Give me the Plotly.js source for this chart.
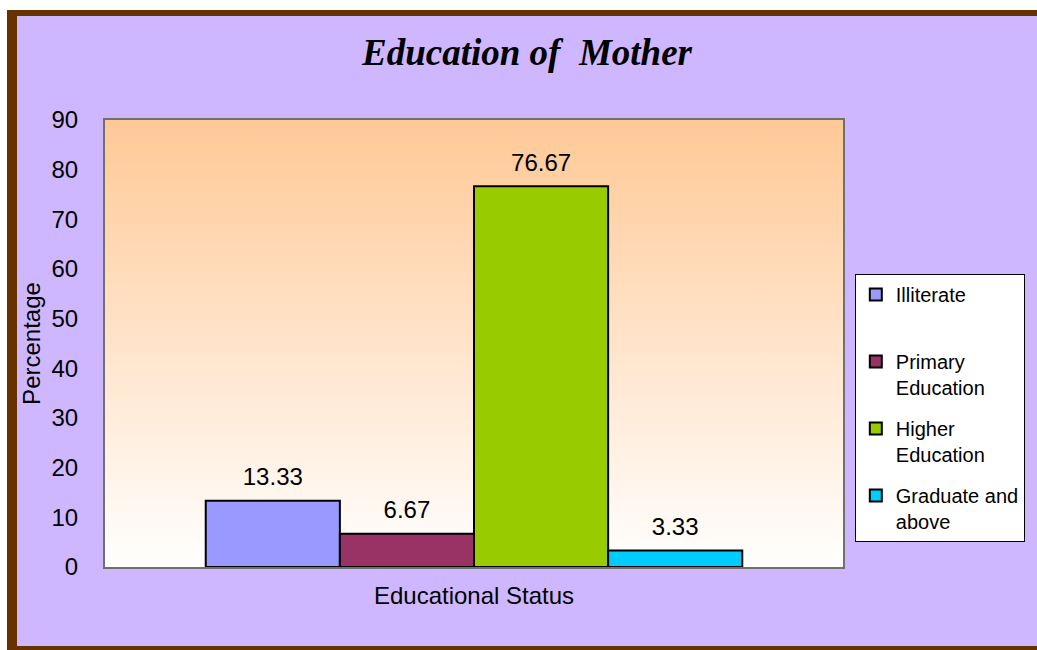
<!DOCTYPE html>
<html>
<head>
<meta charset="utf-8">
<script src="https://cdn.plot.ly/plotly-3.0.1.min.js"></script>
<style>
  html, body { margin: 0; padding: 0; background: #ffffff; width: 1037px; height: 650px; overflow: hidden; }
  #wrap { position: absolute; left: 7px; top: 10px; width: 1030px; height: 640px; box-sizing: border-box;
          border-left: 10px solid #663300; border-top: 6px solid #663300; border-bottom: 4px solid #663300;
          background: #cfb7ff; }
  #chart { width: 1020px; height: 630px; }
</style>
</head>
<body>
<div id="wrap"><div id="chart"></div></div>
<script>
// Data
const categories = ["Educational Status"];
const seriesNames = ["Illiterate", "Primary<br>Education", "Higher<br>Education", "Graduate and<br>above"];
const illiterate = [13.33];
const primaryEducation = [6.67];
const higherEducation = [76.67];
const graduateAndAbove = [3.33];
const seriesValues = [illiterate, primaryEducation, higherEducation, graduateAndAbove];
const seriesColors = ["#9999ff", "#993366", "#99cc00", "#00ccff"];
const yTickValues = [0, 10, 20, 30, 40, 50, 60, 70, 80, 90];

const FONT = "Liberation Sans, Arial, sans-serif";
const LABEL_GAP = 1.5; // spacing (axis units) between bar top and its value label

const barTraces = seriesValues.map((vals, i) => ({
  type: "bar",
  name: i === 0 ? seriesNames[i] + "<br> " : seriesNames[i],
  x: categories,
  y: vals,
  offsetgroup: "s" + i,
  legendgroup: "g" + i,
  marker: { color: seriesColors[i], line: { color: "#000000", width: 2 } },
  hoverinfo: "skip"
}));

// transparent spacer bars carrying the value labels above each bar
const labelTraces = seriesValues.map((vals, i) => ({
  type: "bar",
  x: categories,
  base: vals,
  y: vals.map(() => LABEL_GAP),
  offsetgroup: "s" + i,
  legendgroup: "g" + i,
  showlegend: false,
  marker: { color: "rgba(0,0,0,0)", line: { width: 0 } },
  text: vals.map(v => v.toFixed(2)),
  textposition: "outside",
  textfont: { family: FONT, size: 24, color: "#000000" },
  cliponaxis: false,
  hoverinfo: "skip"
}));

const gradientSvg = "data:image/svg+xml;utf8," + encodeURIComponent(
  "<svg xmlns='http://www.w3.org/2000/svg' width='100' height='100' preserveAspectRatio='none'>" +
  "<defs><linearGradient id='g' x1='0' y1='0' x2='0' y2='1'>" +
  "<stop offset='0' stop-color='#ffc996'/><stop offset='1' stop-color='#ffffff'/>" +
  "</linearGradient></defs><rect width='100' height='100' fill='url(#g)'/></svg>");

const layout = {
  width: 1020,
  height: 630,
  paper_bgcolor: "#cfb7ff",
  plot_bgcolor: "rgba(0,0,0,0)",
  margin: { l: 88, r: 190, t: 104, b: 79 },
  barmode: "group",
  bargap: 0.273,
  bargroupgap: 0,
  showlegend: true,
  title: {
    text: "<b><i>Education of  Mother</i></b>",
    font: { family: "Liberation Serif, Times New Roman, serif", size: 37, color: "#000000" },
    x: 0.5, xref: "container", xanchor: "center",
    y: 0.943, yref: "container", yanchor: "middle"
  },
  xaxis: {
    type: "category",
    showline: true, mirror: true, linecolor: "#707070", linewidth: 2,
    ticks: "", showgrid: false,
    tickfont: { family: FONT, size: 24, color: "#000000" },
    ticklabelstandoff: 6
  },
  yaxis: {
    range: [0, 90],
    tickvals: yTickValues,
    showline: true, mirror: true, linecolor: "#707070", linewidth: 2,
    ticks: "", showgrid: false, zeroline: false,
    tickfont: { family: FONT, size: 24, color: "#000000" },
    ticklabelstandoff: 20,
    title: { text: "Percentage", font: { family: FONT, size: 24, color: "#000000" }, standoff: 4 }
  },
  legend: {
    x: 1.016, xanchor: "left",
    y: 0.6555, yanchor: "top",
    bgcolor: "#ffffff", bordercolor: "#000000", borderwidth: 1,
    font: { family: FONT, size: 20, color: "#000000" },
    traceorder: "grouped",
    tracegroupgap: 12,
    valign: "top",
    itemwidth: 30
  },
  images: [{
    source: gradientSvg,
    xref: "paper", yref: "paper",
    x: 0, y: 1, sizex: 1, sizey: 1,
    xanchor: "left", yanchor: "top",
    sizing: "stretch", layer: "below"
  }]
};

Plotly.newPlot("chart", barTraces.concat(labelTraces), layout, { displayModeBar: false, staticPlot: true });
</script>
</body>
</html>
